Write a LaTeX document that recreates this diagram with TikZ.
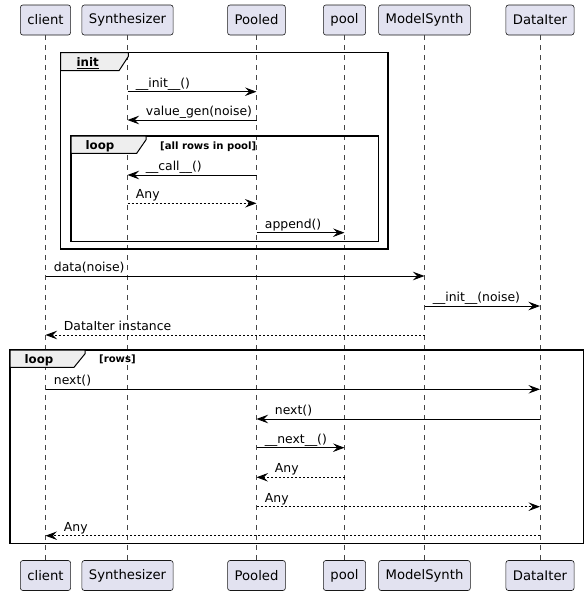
\documentclass[tikz,border=0pt]{standalone}
\usepackage{fontspec}
\setmainfont{DejaVu Sans}
\usetikzlibrary{arrows.meta}
\definecolor{partfill}{HTML}{E2E2F0}
\definecolor{partline}{HTML}{181818}
\definecolor{tabfill}{HTML}{EEEEEE}

\begin{document}
\begin{tikzpicture}[x=1pt,y=-1pt,
  participant/.style={draw=partline, line width=0.6pt, fill=partfill,
    rounded corners=2.5pt, minimum height=30pt, inner xsep=7pt,
    font=\fontsize{13.2}{15}\selectfont},
  lifeline/.style={draw=partline!80, line width=0.5pt, dash pattern=on 5pt off 5pt},
  msg/.style={draw=black, line width=0.9pt,
    -{Stealth[length=11.5pt,width=8.5pt,inset=4.2pt]}},
  reply/.style={msg, dash pattern=on 2pt off 2pt},
  lblR/.style={pos=0, anchor=base west, inner sep=0pt, xshift=8pt, yshift=4.5pt,
    font=\fontsize{12.4}{14}\selectfont},
  lblL/.style={pos=1, anchor=base west, inner sep=0pt, xshift=18pt, yshift=4.5pt,
    font=\fontsize{12.4}{14}\selectfont},
  frame/.style={draw=black, line width=1.5pt},
  tab/.style={draw=black, line width=1pt, fill=tabfill},
  tablabel/.style={anchor=base, inner sep=0pt, font=\bfseries\fontsize{11.8}{14}\selectfont},
  guard/.style={anchor=base west, inner sep=0pt, font=\bfseries\fontsize{10.1}{12}\selectfont},
]
\useasboundingbox (0,0) rectangle (588,595);
\fill[white] (0,0) rectangle (588,595);

% participants, top row
\node[participant] (client) at (45.5,20) {client};
\node[participant] (synth)  at (127.5,20) {Synthesizer};
\node[participant] (pooled) at (256.5,20) {Pooled};
\node[participant] (pool)   at (344.5,20) {pool};
\node[participant] (model)  at (424.5,20) {ModelSynth};
\node[participant] (iter)   at (540,20) {DataIter};

% participants, bottom row
\node[participant] (clientB) at (45.5,575.5) {client};
\node[participant] (synthB)  at (127.5,575.5) {Synthesizer};
\node[participant] (pooledB) at (256.5,575.5) {Pooled};
\node[participant] (poolB)   at (344.5,575.5) {pool};
\node[participant] (modelB)  at (424.5,575.5) {ModelSynth};
\node[participant] (iterB)   at (540,575.5) {DataIter};

% lifelines
\draw[lifeline] (client.south) -- (clientB.north);
\draw[lifeline] (synth.south)  -- (synthB.north);
\draw[lifeline] (pooled.south) -- (pooledB.north);
\draw[lifeline] (pool.south)   -- (poolB.north);
\draw[lifeline] (model.south)  -- (modelB.north);
\draw[lifeline] (iter.south)   -- (iterB.north);

% group "init"
\draw[frame] (60.7,52.7) rectangle (388,249);
\draw[tab] (60.7,52.7) -- (128.3,52.7) -- (128.3,56.5) -- (119,70.7) -- (60.7,70.7) -- cycle;
\node[tablabel] (initlbl) at (87.7,66.5) {\underline{init}};

% inner loop over pool rows
\draw[frame] (71,136) rectangle (378.3,241.7);
\draw[tab] (71,136) -- (146,136) -- (146,139.8) -- (136.7,153.3) -- (71,153.3) -- cycle;
\node[tablabel] (loop1lbl) at (100,149.5) {loop};
\node[guard] (loop1grd) at (160,149.3) {[all rows in pool]};

% outer loop over rows
\draw[frame] (10,350) rectangle (583.3,543.3);
\draw[tab] (10,350) -- (85,350) -- (85,353.8) -- (74,367.3) -- (10,367.3) -- cycle;
\node[tablabel] (loop2lbl) at (39,363) {loop};
\node[guard] (loop2grd) at (99,362.5) {[rows]};

% message rows
\coordinate (m1)  at (0,91.7);
\coordinate (m2)  at (0,120);
\coordinate (m3)  at (0,175);
\coordinate (m4)  at (0,203.3);
\coordinate (m5)  at (0,232.7);
\coordinate (m6)  at (0,276);
\coordinate (m7)  at (0,306);
\coordinate (m8)  at (0,335);
\coordinate (m9)  at (0,389.3);
\coordinate (m10) at (0,419);
\coordinate (m11) at (0,447.7);
\coordinate (m12) at (0,477.3);
\coordinate (m13) at (0,506.7);
\coordinate (m14) at (0,535.7);

% messages
\draw[msg]   (synth |- m1)  -- node[lblR] (t1) {\_\_init\_\_()} (pooled |- m1);
\draw[msg]   (pooled |- m2) -- node[lblL] (t2) {value\_gen(noise)} (synth |- m2);
\draw[msg]   (pooled |- m3) -- node[lblL] (t3) {\_\_call\_\_()} (synth |- m3);
\draw[reply] (synth |- m4)  -- node[lblR] (t4) {Any} (pooled |- m4);
\draw[msg]   (pooled |- m5) -- node[lblR] (t5) {append()} (pool |- m5);
\draw[msg]   (client |- m6) -- node[lblR] (t6) {data(noise)} (model |- m6);
\draw[msg]   (model |- m7)  -- node[lblR] (t7) {\_\_init\_\_(noise)} (iter |- m7);
\draw[reply] (model |- m8)  -- node[lblL] (t8) {DataIter instance} (client |- m8);
\draw[msg]   (client |- m9) -- node[lblR] (t9) {next()} (iter |- m9);
\draw[msg]   (iter |- m10)  -- node[lblL] (t10) {next()} (pooled |- m10);
\draw[msg]   (pooled |- m11) -- node[lblR] (t11) {\_\_next\_\_()} (pool |- m11);
\draw[reply] (pool |- m12)  -- node[lblL] (t12) {Any} (pooled |- m12);
\draw[reply] (pooled |- m13) -- node[lblR] (t13) {Any} (iter |- m13);
\draw[reply] (iter |- m14)  -- node[lblL] (t14) {Any} (client |- m14);
\end{tikzpicture}
\end{document}
